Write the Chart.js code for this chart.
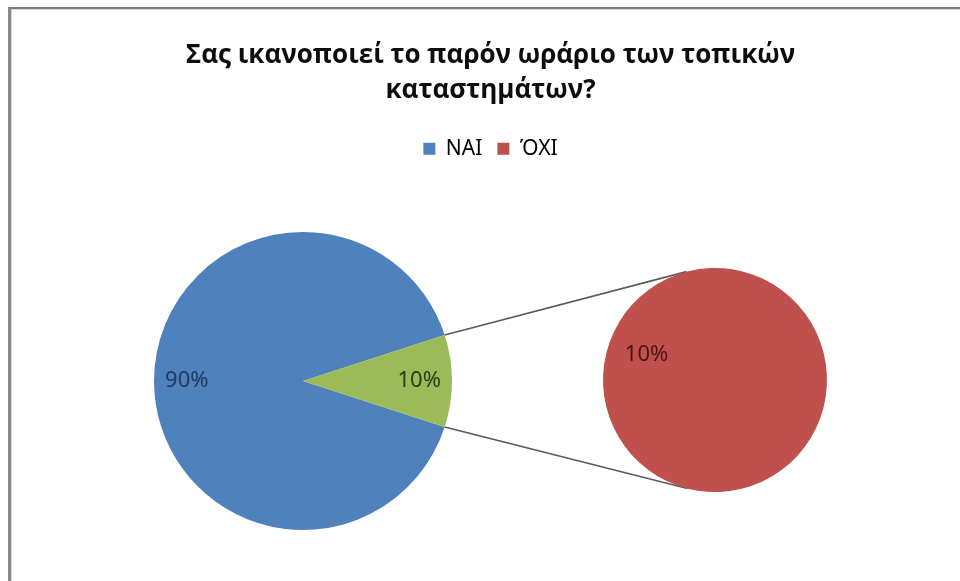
<!DOCTYPE html>
<html>
<head>
<meta charset="utf-8">
<script src="https://cdn.jsdelivr.net/npm/chart.js@4.4.1/dist/chart.umd.min.js"></script>
<style>
  html, body { margin: 0; padding: 0; background: #ffffff; }
  #wrap { position: relative; width: 960px; height: 581px; overflow: hidden; background: #ffffff; }
  #frame {
    position: absolute; left: 8px; top: 7px; width: 1000px; height: 700px;
    border-top: 2px solid #7c7c7c; border-left: 3px solid #8a8a8a;
    box-shadow: inset 1px 1px 0 #d4d4d4;
  }
  canvas { position: absolute; left: 0; top: 0; }
</style>
</head>
<body>
<div id="wrap">
  <div id="frame"></div>
  <canvas id="mainPie" width="960" height="581"></canvas>
  <canvas id="detailPie" width="960" height="581"></canvas>
</div>
<script>
// Survey answers (percent)
const categories = ['ΝΑΙ', 'ΌΧΙ'];
const shares = [90, 10];
const otherLabel = 'Άλλο';
const titleLines = ['Σας ικανοποιεί το παρόν ωράριο των τοπικών', 'καταστημάτων?'];

// Office palette
const seriesColors = ['#4F81BD', '#C0504D'];
const otherColor = '#9BBB59';
const mainLabelColors = ['#1d3a60', '#2c3a12'];
const detailLabelColors = ['#4a1413'];

const total = shares.reduce((a, b) => a + b, 0);

// Percentage text inside each slice, along the slice's middle angle
const pctLabels = {
  id: 'pctLabels',
  afterDatasetsDraw(chart, args, opts) {
    const ctx = chart.ctx;
    const meta = chart.getDatasetMeta(0);
    const data = chart.data.datasets[0].data;
    ctx.save();
    ctx.font = opts.font;
    ctx.textAlign = 'center';
    ctx.textBaseline = 'middle';
    meta.data.forEach((arc, i) => {
      const p = arc.getProps(['x', 'y', 'startAngle', 'endAngle', 'outerRadius'], true);
      const mid = (p.startAngle + p.endAngle) / 2;
      const r = p.outerRadius * opts.distance;
      ctx.fillStyle = opts.colors[i];
      ctx.fillText(Math.round(data[i] / total * 100) + '%', p.x + Math.cos(mid) * r, p.y + Math.sin(mid) * r);
    });
    ctx.restore();
  }
};

// Main pie sits in a square at the bottom-left of the plot region
const squareArea = {
  id: 'squareArea',
  afterLayout(chart, args, opts) {
    const a = chart.chartArea;
    a.right = a.left + opts.side;
    a.top = a.bottom - opts.side;
    a.width = opts.side;
    a.height = opts.side;
  }
};

const mainChart = new Chart(document.getElementById('mainPie'), {
  type: 'pie',
  data: {
    labels: [categories[0], otherLabel],
    datasets: [{
      data: [shares[0], shares[1]],
      backgroundColor: [seriesColors[0], otherColor],
      borderWidth: 0,
      hoverOffset: 0
    }]
  },
  options: {
    responsive: false,
    animation: false,
    events: [],
    rotation: 90 + shares[1] / total * 180,
    layout: { padding: { left: 154, right: 133, top: 30, bottom: 51 } },
    plugins: {
      tooltip: { enabled: false },
      title: {
        display: true,
        text: titleLines,
        color: '#0d0d0d',
        font: { family: '"Open Sans", "Noto Sans", sans-serif', size: 26, weight: 'bold', lineHeight: 1.35 },
        padding: { top: 8, bottom: 15 }
      },
      legend: {
        display: true,
        position: 'top',
        labels: {
          color: '#3a3a3a',
          font: { family: '"Noto Sans", "Open Sans", sans-serif', size: 21 },
          boxWidth: 12,
          boxHeight: 12,
          padding: 15,
          generateLabels: () => categories.map((c, i) => ({
            text: c,
            fillStyle: seriesColors[i],
            strokeStyle: seriesColors[i],
            lineWidth: 0,
            hidden: false,
            index: i
          }))
        }
      },
      squareArea: { side: 298 },
      pctLabels: { font: '22px "Noto Sans", sans-serif', distance: 0.78, colors: mainLabelColors }
    }
  },
  plugins: [squareArea, pctLabels]
});

// Lines joining the aggregated slice to the secondary pie (tangent to it)
const connectors = {
  id: 'connectors',
  beforeDatasetsDraw(chart) {
    const src = mainChart.getDatasetMeta(0).data[1];
    const dst = chart.getDatasetMeta(0).data[0];
    if (!src || !dst) return;
    const s = src.getProps(['x', 'y', 'startAngle', 'endAngle', 'outerRadius'], true);
    const d = dst.getProps(['x', 'y', 'outerRadius'], true);
    const ctx = chart.ctx;
    const tangent = (px, py, upper) => {
      const dx = px - d.x, dy = py - d.y;
      const dist = Math.hypot(dx, dy);
      const base = Math.atan2(dy, dx);
      const a = Math.acos(d.outerRadius / dist);
      const c1 = [d.x + d.outerRadius * Math.cos(base + a), d.y + d.outerRadius * Math.sin(base + a)];
      const c2 = [d.x + d.outerRadius * Math.cos(base - a), d.y + d.outerRadius * Math.sin(base - a)];
      return upper ? (c1[1] < c2[1] ? c1 : c2) : (c1[1] > c2[1] ? c1 : c2);
    };
    ctx.save();
    ctx.strokeStyle = '#5a5a5a';
    ctx.lineWidth = 1.6;
    [[s.startAngle, true], [s.endAngle, false]].forEach(([ang, upper]) => {
      const px = s.x + s.outerRadius * Math.cos(ang);
      const py = s.y + s.outerRadius * Math.sin(ang);
      const t = tangent(px, py, upper);
      ctx.beginPath();
      ctx.moveTo(px, py);
      ctx.lineTo(t[0], t[1]);
      ctx.stroke();
    });
    ctx.restore();
  }
};

new Chart(document.getElementById('detailPie'), {
  type: 'pie',
  data: {
    labels: [categories[1]],
    datasets: [{
      data: [shares[1]],
      backgroundColor: [seriesColors[1]],
      borderWidth: 0,
      hoverOffset: 0
    }]
  },
  options: {
    responsive: false,
    animation: false,
    events: [],
    rotation: 110,
    layout: { padding: { left: 603, right: 133, top: 268, bottom: 89 } },
    plugins: {
      tooltip: { enabled: false },
      title: { display: false },
      legend: { display: false },
      pctLabels: { font: '22px "Noto Sans", sans-serif', distance: 0.65, colors: detailLabelColors }
    }
  },
  plugins: [connectors, pctLabels]
});
</script>
</body>
</html>
